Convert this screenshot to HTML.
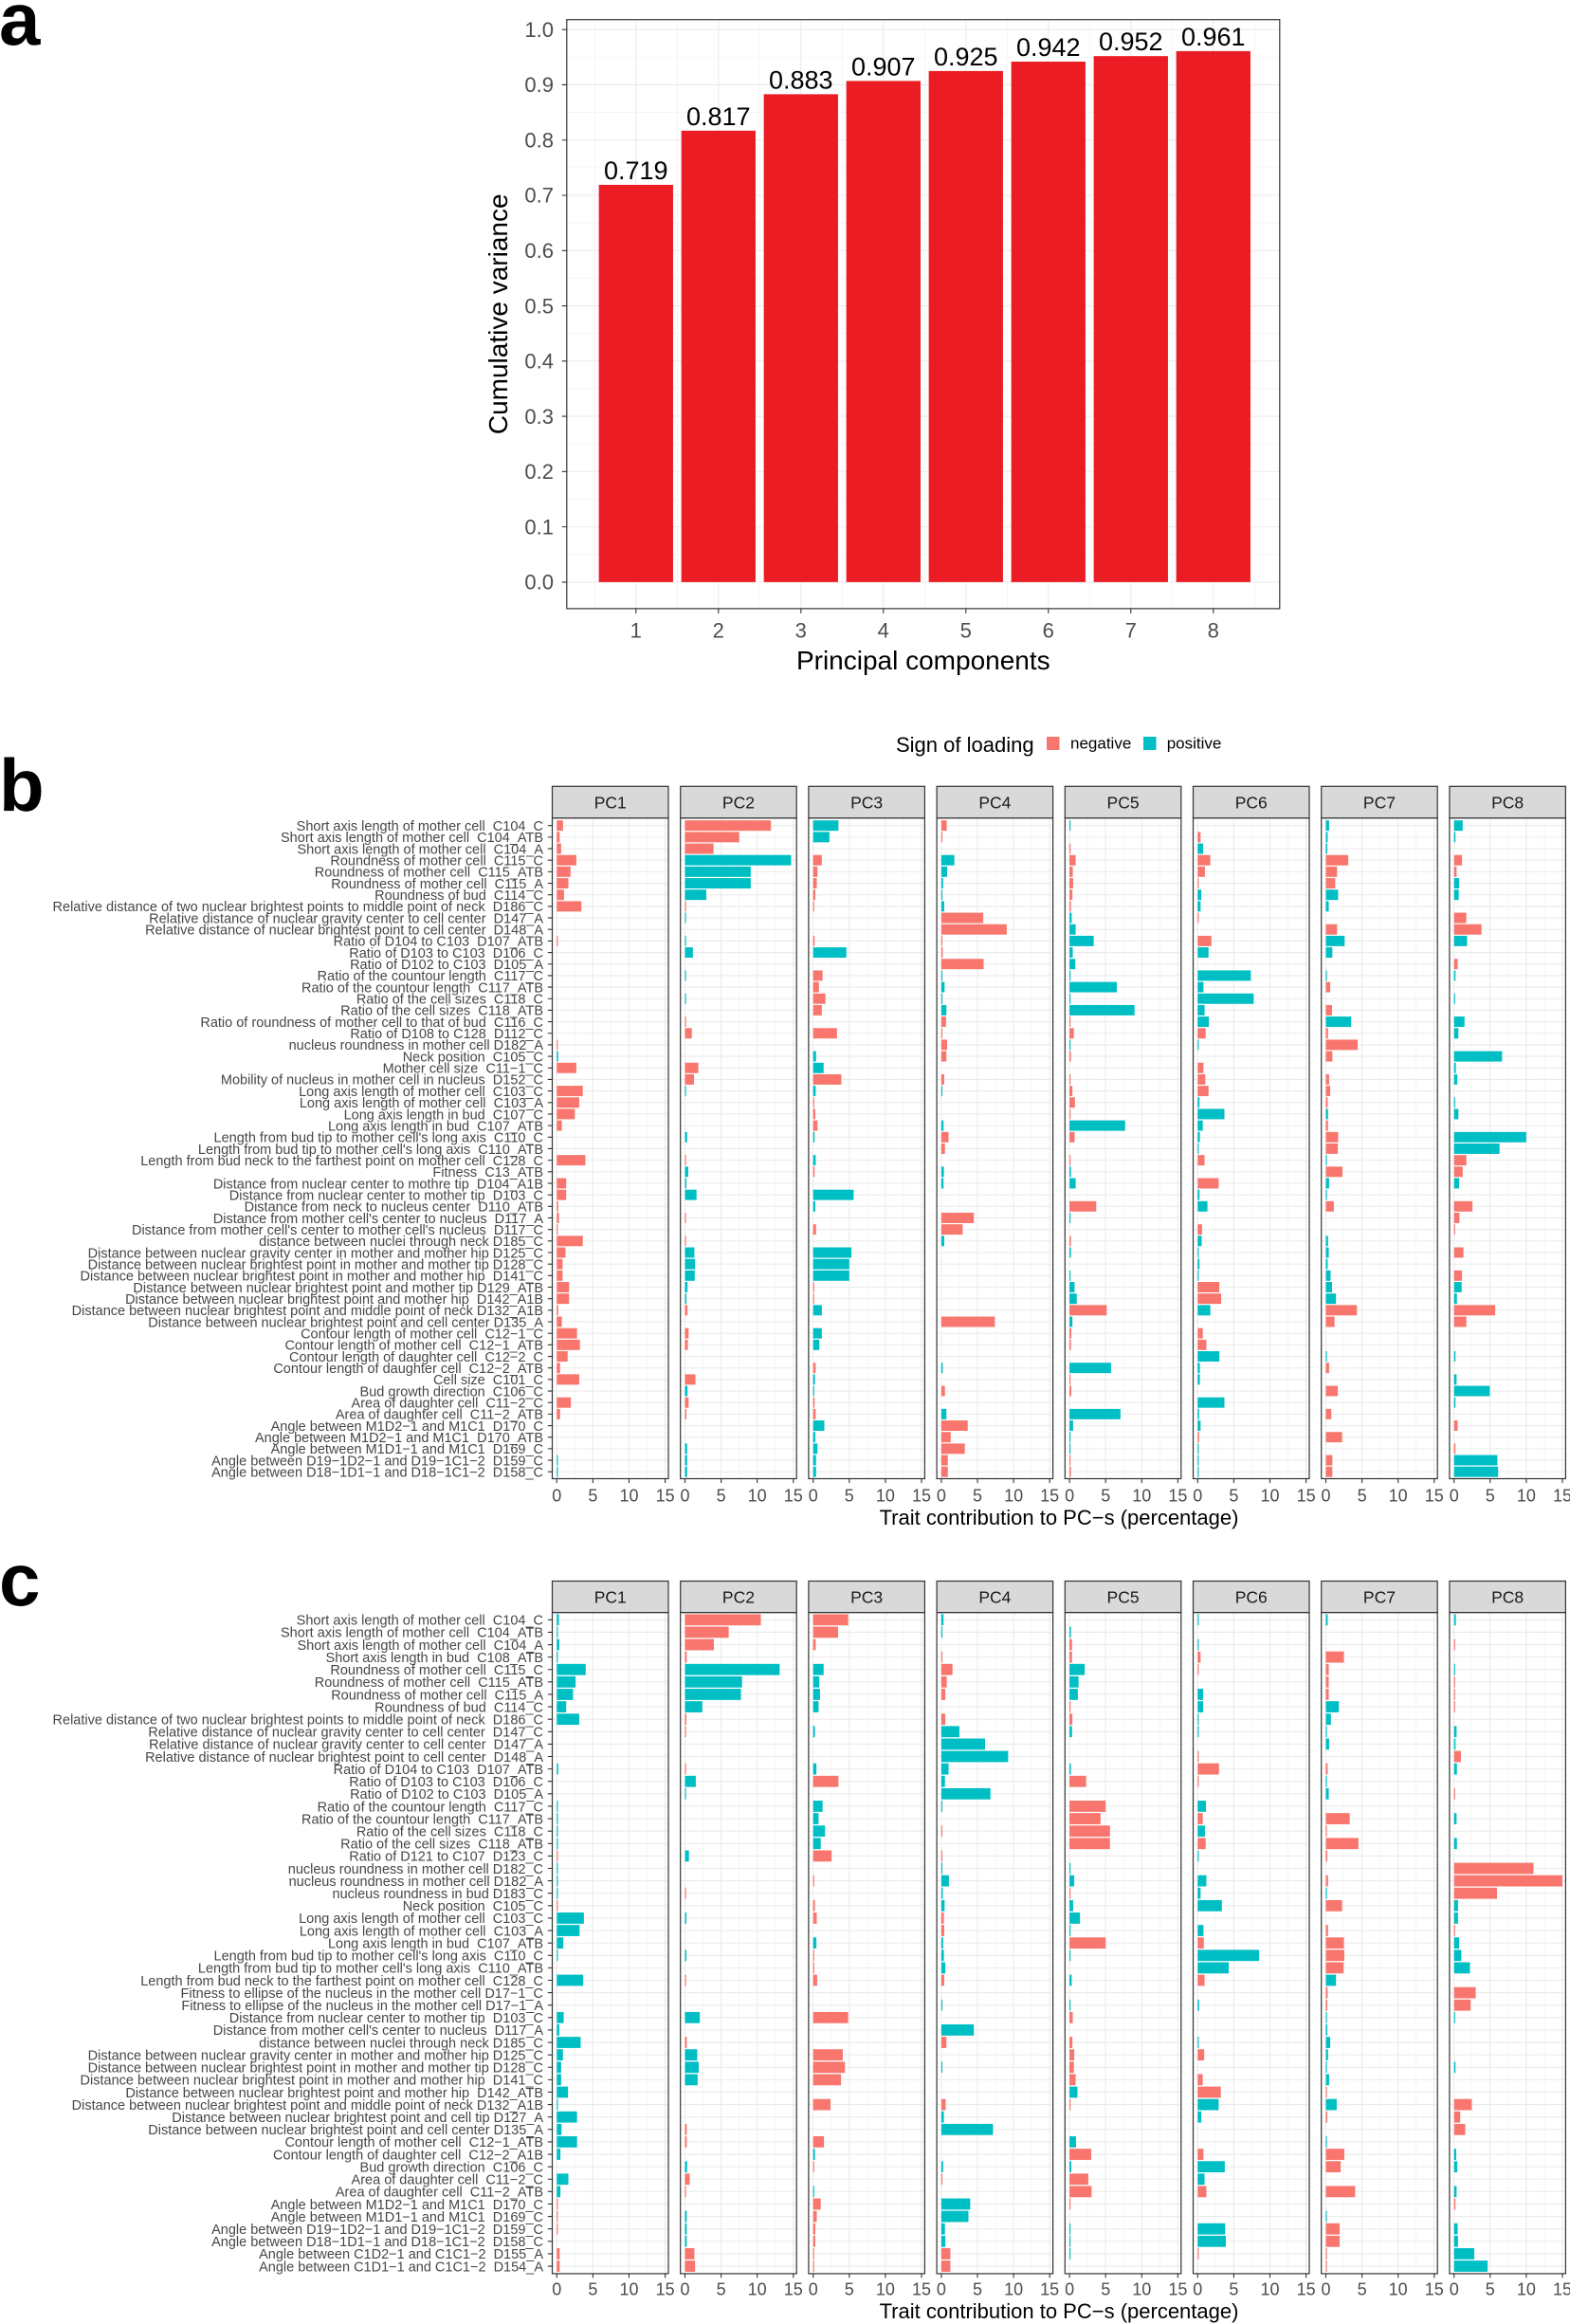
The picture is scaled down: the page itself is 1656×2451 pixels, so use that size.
<!DOCTYPE html>
<html><head><meta charset="utf-8"><style>
html,body{margin:0;padding:0;background:#fff;}
svg{display:block;font-family:"Liberation Sans",Arial,sans-serif;}
.n{fill:#F8766D}.p{fill:#00BFC4}
.yl{font-size:14.5px;fill:#474747}
.tk{font-size:18px;fill:#4D4D4D;text-anchor:middle}
.st{font-size:17.5px;fill:#1A1A1A;text-anchor:middle}
.gm{stroke:#EBEBEB;stroke-width:1.1;fill:none}
.gn{stroke:#F0F0F0;stroke-width:0.6;fill:none}
.bd{fill:none;stroke:#333;stroke-width:1.2}
.sp{fill:#D9D9D9;stroke:#333;stroke-width:1.2}
</style></head><body>
<svg width="1656" height="2451" viewBox="0 0 1656 2451" xmlns="http://www.w3.org/2000/svg" xmlns:xlink="http://www.w3.org/1999/xlink">
<rect width="1656" height="2451" fill="#fff"/>
<defs>
<g id="gb">
<rect x="0" y="862.7" width="122.5" height="696.8" fill="#fff"/>
<path class="gn" d="M23.85 862.7V1559.5M61.95 862.7V1559.5M100.05 862.7V1559.5"/>
<path class="gm" d="M4.8 862.7V1559.5M42.9 862.7V1559.5M81 862.7V1559.5M119.1 862.7V1559.5"/>
<path class="gm" vector-effect="non-scaling-stroke" transform="translate(0 870.7) scale(1 12.17)" d="M0 0h122.5M0 1h122.5M0 2h122.5M0 3h122.5M0 4h122.5M0 5h122.5M0 6h122.5M0 7h122.5M0 8h122.5M0 9h122.5M0 10h122.5M0 11h122.5M0 12h122.5M0 13h122.5M0 14h122.5M0 15h122.5M0 16h122.5M0 17h122.5M0 18h122.5M0 19h122.5M0 20h122.5M0 21h122.5M0 22h122.5M0 23h122.5M0 24h122.5M0 25h122.5M0 26h122.5M0 27h122.5M0 28h122.5M0 29h122.5M0 30h122.5M0 31h122.5M0 32h122.5M0 33h122.5M0 34h122.5M0 35h122.5M0 36h122.5M0 37h122.5M0 38h122.5M0 39h122.5M0 40h122.5M0 41h122.5M0 42h122.5M0 43h122.5M0 44h122.5M0 45h122.5M0 46h122.5M0 47h122.5M0 48h122.5M0 49h122.5M0 50h122.5M0 51h122.5M0 52h122.5M0 53h122.5M0 54h122.5M0 55h122.5M0 56h122.5"/>
</g>
<g id="gc">
<rect x="0" y="1700.6" width="122.5" height="697.3" fill="#fff"/>
<path class="gn" d="M23.85 1700.6V2397.9M61.95 1700.6V2397.9M100.05 1700.6V2397.9"/>
<path class="gm" d="M4.8 1700.6V2397.9M42.9 1700.6V2397.9M81 1700.6V2397.9M119.1 1700.6V2397.9"/>
<path class="gm" vector-effect="non-scaling-stroke" transform="translate(0 1708.3) scale(1 13.11)" d="M0 0h122.5M0 1h122.5M0 2h122.5M0 3h122.5M0 4h122.5M0 5h122.5M0 6h122.5M0 7h122.5M0 8h122.5M0 9h122.5M0 10h122.5M0 11h122.5M0 12h122.5M0 13h122.5M0 14h122.5M0 15h122.5M0 16h122.5M0 17h122.5M0 18h122.5M0 19h122.5M0 20h122.5M0 21h122.5M0 22h122.5M0 23h122.5M0 24h122.5M0 25h122.5M0 26h122.5M0 27h122.5M0 28h122.5M0 29h122.5M0 30h122.5M0 31h122.5M0 32h122.5M0 33h122.5M0 34h122.5M0 35h122.5M0 36h122.5M0 37h122.5M0 38h122.5M0 39h122.5M0 40h122.5M0 41h122.5M0 42h122.5M0 43h122.5M0 44h122.5M0 45h122.5M0 46h122.5M0 47h122.5M0 48h122.5M0 49h122.5M0 50h122.5M0 51h122.5M0 52h122.5"/>
</g>
<g id="xb"><path d="M4.8 1559.5v4.5M42.9 1559.5v4.5M81 1559.5v4.5M119.1 1559.5v4.5" stroke="#333" stroke-width="1.1"/></g>
<g id="xc"><path d="M4.8 2397.9v4.5M42.9 2397.9v4.5M81 2397.9v4.5M119.1 2397.9v4.5" stroke="#333" stroke-width="1.1"/></g>
</defs>

<!-- ===== Panel a ===== -->
<text x="-1" y="47" font-size="78" font-weight="bold" fill="#000">a</text>
<rect x="597.8" y="20.7" width="752" height="621.2" fill="#fff"/>
<path class="gn" d="M597.8 584.77H1349.8M597.8 526.5H1349.8M597.8 468.23H1349.8M597.8 409.96H1349.8M597.8 351.69H1349.8M597.8 293.42H1349.8M597.8 235.15H1349.8M597.8 176.88H1349.8M597.8 118.61H1349.8M597.8 60.34H1349.8M627.3 20.7V641.9M714.3 20.7V641.9M801.3 20.7V641.9M888.3 20.7V641.9M975.3 20.7V641.9M1062.3 20.7V641.9M1149.3 20.7V641.9M1236.3 20.7V641.9M1323.3 20.7V641.9"/>
<path class="gm" d="M597.8 613.9H1349.8M597.8 555.63H1349.8M597.8 497.36H1349.8M597.8 439.09H1349.8M597.8 380.82H1349.8M597.8 322.55H1349.8M597.8 264.28H1349.8M597.8 206.01H1349.8M597.8 147.74H1349.8M597.8 89.47H1349.8M597.8 31.2H1349.8M670.8 20.7V641.9M757.8 20.7V641.9M844.8 20.7V641.9M931.8 20.7V641.9M1018.8 20.7V641.9M1105.8 20.7V641.9M1192.8 20.7V641.9M1279.8 20.7V641.9"/>
<g fill="#EC1C24">
<rect x="631.65" y="194.94" width="78.3" height="418.96"/>
<rect x="718.65" y="137.83" width="78.3" height="476.07"/>
<rect x="805.65" y="99.38" width="78.3" height="514.52"/>
<rect x="892.65" y="85.39" width="78.3" height="528.51"/>
<rect x="979.65" y="74.9" width="78.3" height="539"/>
<rect x="1066.65" y="65" width="78.3" height="548.9"/>
<rect x="1153.65" y="59.17" width="78.3" height="554.73"/>
<rect x="1240.65" y="53.93" width="78.3" height="559.97"/>
</g>
<g font-size="27" fill="#000" text-anchor="middle">
<text x="670.8" y="188.9">0.719</text>
<text x="757.8" y="131.8">0.817</text>
<text x="844.8" y="93.4">0.883</text>
<text x="931.8" y="79.4">0.907</text>
<text x="1018.8" y="68.9">0.925</text>
<text x="1105.8" y="59">0.942</text>
<text x="1192.8" y="53.2">0.952</text>
<text x="1279.8" y="47.9">0.961</text>
</g>
<rect class="bd" x="597.8" y="20.7" width="752" height="621.2"/>
<path d="M592.8 613.9h5M592.8 555.63h5M592.8 497.36h5M592.8 439.09h5M592.8 380.82h5M592.8 322.55h5M592.8 264.28h5M592.8 206.01h5M592.8 147.74h5M592.8 89.47h5M592.8 31.2h5M670.8 641.9v5M757.8 641.9v5M844.8 641.9v5M931.8 641.9v5M1018.8 641.9v5M1105.8 641.9v5M1192.8 641.9v5M1279.8 641.9v5" stroke="#333" stroke-width="1.1"/>
<g font-size="22" fill="#4D4D4D" text-anchor="end">
<text x="584" y="621.6">0.0</text>
<text x="584" y="563.3">0.1</text>
<text x="584" y="505.1">0.2</text>
<text x="584" y="446.8">0.3</text>
<text x="584" y="388.5">0.4</text>
<text x="584" y="330.3">0.5</text>
<text x="584" y="272">0.6</text>
<text x="584" y="213.7">0.7</text>
<text x="584" y="155.4">0.8</text>
<text x="584" y="97.2">0.9</text>
<text x="584" y="38.9">1.0</text>
</g>
<g font-size="22" fill="#4D4D4D" text-anchor="middle">
<text x="670.8" y="672.4">1</text>
<text x="757.8" y="672.4">2</text>
<text x="844.8" y="672.4">3</text>
<text x="931.8" y="672.4">4</text>
<text x="1018.8" y="672.4">5</text>
<text x="1105.8" y="672.4">6</text>
<text x="1192.8" y="672.4">7</text>
<text x="1279.8" y="672.4">8</text>
</g>
<text x="973.8" y="706" font-size="28" fill="#000" text-anchor="middle">Principal components</text>
<text transform="translate(535 331.3) rotate(-90)" font-size="28" fill="#000" text-anchor="middle">Cumulative variance</text>

<!-- ===== Legend ===== -->
<text x="945" y="793" font-size="22" fill="#000">Sign of loading</text>
<rect x="1104" y="777" width="13.5" height="14" fill="#F8766D"/>
<text x="1129" y="789.5" font-size="17" fill="#000">negative</text>
<rect x="1206" y="777" width="13.5" height="14" fill="#00BFC4"/>
<text x="1230.7" y="789.5" font-size="17" fill="#000">positive</text>

<!-- ===== Panel b ===== -->
<text x="-1" y="855" font-size="78" font-weight="bold" fill="#000">b</text>
<use xlink:href="#gb" href="#gb" x="582.5"/>
<use xlink:href="#gb" href="#gb" x="717.7"/>
<use xlink:href="#gb" href="#gb" x="852.9"/>
<use xlink:href="#gb" href="#gb" x="988.1"/>
<use xlink:href="#gb" href="#gb" x="1123.3"/>
<use xlink:href="#gb" href="#gb" x="1258.5"/>
<use xlink:href="#gb" href="#gb" x="1393.7"/>
<use xlink:href="#gb" href="#gb" x="1528.9"/>

<g transform="translate(587.3 865.22) scale(7.62 12.17)">
<rect class="n" y="0" width=".86" height=".9"/><rect class="n" y="1" width=".4" height=".9"/><rect class="n" y="2" width=".6" height=".9"/><rect class="n" y="3" width="2.7" height=".9"/><rect class="n" y="4" width="1.9" height=".9"/><rect class="n" y="5" width="1.6" height=".9"/><rect class="n" y="6" width="1" height=".9"/><rect class="n" y="7" width="3.4" height=".9"/><rect class="n" y="10" width=".15" height=".9"/><rect class="n" y="19" width=".15" height=".9"/><rect class="p" y="20" width=".2" height=".9"/><rect class="n" y="21" width="2.7" height=".9"/><rect class="n" y="23" width="3.6" height=".9"/><rect class="n" y="24" width="3.1" height=".9"/><rect class="n" y="25" width="2.5" height=".9"/><rect class="n" y="26" width=".7" height=".9"/><rect class="n" y="29" width="3.95" height=".9"/><rect class="n" y="31" width="1.3" height=".9"/><rect class="n" y="32" width="1.3" height=".9"/><rect class="n" y="33" width=".2" height=".9"/><rect class="n" y="34" width=".3" height=".9"/><rect class="n" y="35" width=".15" height=".9"/><rect class="n" y="36" width="3.6" height=".9"/><rect class="n" y="37" width="1.2" height=".9"/><rect class="n" y="38" width=".8" height=".9"/><rect class="n" y="39" width=".8" height=".9"/><rect class="n" y="40" width="1.7" height=".9"/><rect class="n" y="41" width="1.7" height=".9"/><rect class="n" y="42" width=".2" height=".9"/><rect class="n" y="43" width=".7" height=".9"/><rect class="n" y="44" width="2.8" height=".9"/><rect class="n" y="45" width="3.2" height=".9"/><rect class="n" y="46" width="1.5" height=".9"/><rect class="n" y="47" width=".45" height=".9"/><rect class="n" y="48" width="3.1" height=".9"/><rect class="n" y="50" width="1.95" height=".9"/><rect class="n" y="51" width=".45" height=".9"/><rect class="p" y="55" width=".15" height=".9"/><rect class="p" y="56" width=".15" height=".9"/>
</g>
<g transform="translate(722.5 865.22) scale(7.62 12.17)">
<rect class="n" y="0" width="11.9" height=".9"/><rect class="n" y="1" width="7.5" height=".9"/><rect class="n" y="2" width="3.95" height=".9"/><rect class="p" y="3" width="14.7" height=".9"/><rect class="p" y="4" width="9.1" height=".9"/><rect class="p" y="5" width="9.1" height=".9"/><rect class="p" y="6" width="2.95" height=".9"/><rect class="n" y="7" width=".15" height=".9"/><rect class="p" y="8" width=".15" height=".9"/><rect class="p" y="10" width=".15" height=".9"/><rect class="p" y="11" width="1.1" height=".9"/><rect class="p" y="13" width=".15" height=".9"/><rect class="p" y="15" width=".15" height=".9"/><rect class="n" y="17" width=".15" height=".9"/><rect class="n" y="18" width=".95" height=".9"/><rect class="n" y="21" width="1.85" height=".9"/><rect class="n" y="22" width="1.25" height=".9"/><rect class="p" y="23" width=".15" height=".9"/><rect class="p" y="27" width=".3" height=".9"/><rect class="n" y="29" width=".15" height=".9"/><rect class="p" y="30" width=".45" height=".9"/><rect class="p" y="31" width=".2" height=".9"/><rect class="p" y="32" width="1.6" height=".9"/><rect class="n" y="34" width=".15" height=".9"/><rect class="n" y="36" width=".15" height=".9"/><rect class="p" y="37" width="1.3" height=".9"/><rect class="p" y="38" width="1.4" height=".9"/><rect class="p" y="39" width="1.35" height=".9"/><rect class="p" y="40" width=".35" height=".9"/><rect class="p" y="41" width=".2" height=".9"/><rect class="n" y="42" width=".35" height=".9"/><rect class="n" y="44" width=".5" height=".9"/><rect class="n" y="45" width=".4" height=".9"/><rect class="n" y="48" width="1.45" height=".9"/><rect class="p" y="49" width=".35" height=".9"/><rect class="n" y="50" width=".5" height=".9"/><rect class="n" y="51" width=".2" height=".9"/><rect class="p" y="54" width=".3" height=".9"/><rect class="p" y="55" width=".3" height=".9"/><rect class="p" y="56" width=".3" height=".9"/>
</g>
<g transform="translate(857.7 865.22) scale(7.62 12.17)">
<rect class="p" y="0" width="3.5" height=".9"/><rect class="p" y="1" width="2.25" height=".9"/><rect class="n" y="3" width="1.2" height=".9"/><rect class="n" y="4" width=".6" height=".9"/><rect class="n" y="5" width=".5" height=".9"/><rect class="n" y="6" width=".3" height=".9"/><rect class="n" y="7" width=".15" height=".9"/><rect class="n" y="10" width=".2" height=".9"/><rect class="p" y="11" width="4.6" height=".9"/><rect class="n" y="13" width="1.3" height=".9"/><rect class="n" y="14" width=".8" height=".9"/><rect class="n" y="15" width="1.7" height=".9"/><rect class="n" y="16" width="1.2" height=".9"/><rect class="n" y="18" width="3.3" height=".9"/><rect class="p" y="20" width=".4" height=".9"/><rect class="p" y="21" width="1.45" height=".9"/><rect class="n" y="22" width="3.9" height=".9"/><rect class="p" y="23" width=".35" height=".9"/><rect class="n" y="24" width=".15" height=".9"/><rect class="n" y="25" width=".3" height=".9"/><rect class="n" y="26" width=".6" height=".9"/><rect class="p" y="27" width=".2" height=".9"/><rect class="p" y="29" width=".35" height=".9"/><rect class="n" y="30" width=".2" height=".9"/><rect class="p" y="32" width="5.6" height=".9"/><rect class="p" y="33" width=".3" height=".9"/><rect class="n" y="35" width=".4" height=".9"/><rect class="p" y="37" width="5.3" height=".9"/><rect class="p" y="38" width="5" height=".9"/><rect class="p" y="39" width="5" height=".9"/><rect class="n" y="40" width=".15" height=".9"/><rect class="n" y="41" width=".15" height=".9"/><rect class="p" y="42" width="1.2" height=".9"/><rect class="p" y="44" width="1.2" height=".9"/><rect class="p" y="45" width=".85" height=".9"/><rect class="n" y="47" width=".35" height=".9"/><rect class="p" y="48" width=".25" height=".9"/><rect class="p" y="49" width=".15" height=".9"/><rect class="n" y="50" width=".2" height=".9"/><rect class="n" y="51" width=".35" height=".9"/><rect class="p" y="52" width="1.55" height=".9"/><rect class="p" y="53" width=".3" height=".9"/><rect class="p" y="54" width=".6" height=".9"/><rect class="p" y="55" width=".4" height=".9"/><rect class="p" y="56" width=".4" height=".9"/>
</g>
<g transform="translate(992.9 865.22) scale(7.62 12.17)">
<rect class="n" y="0" width=".75" height=".9"/><rect class="n" y="1" width=".15" height=".9"/><rect class="p" y="3" width="1.8" height=".9"/><rect class="p" y="4" width=".8" height=".9"/><rect class="p" y="5" width=".25" height=".9"/><rect class="p" y="6" width=".15" height=".9"/><rect class="p" y="7" width=".4" height=".9"/><rect class="n" y="8" width="5.8" height=".9"/><rect class="n" y="9" width="9.05" height=".9"/><rect class="n" y="10" width=".15" height=".9"/><rect class="n" y="11" width=".2" height=".9"/><rect class="n" y="12" width="5.85" height=".9"/><rect class="p" y="13" width=".15" height=".9"/><rect class="p" y="14" width=".45" height=".9"/><rect class="p" y="15" width=".15" height=".9"/><rect class="p" y="16" width=".7" height=".9"/><rect class="n" y="17" width=".65" height=".9"/><rect class="n" y="18" width=".15" height=".9"/><rect class="n" y="19" width=".8" height=".9"/><rect class="n" y="20" width=".7" height=".9"/><rect class="n" y="22" width=".4" height=".9"/><rect class="p" y="23" width=".15" height=".9"/><rect class="p" y="26" width=".3" height=".9"/><rect class="n" y="27" width="1" height=".9"/><rect class="n" y="28" width=".5" height=".9"/><rect class="p" y="30" width=".35" height=".9"/><rect class="p" y="31" width=".3" height=".9"/><rect class="n" y="34" width="4.5" height=".9"/><rect class="n" y="35" width="2.95" height=".9"/><rect class="p" y="36" width=".4" height=".9"/><rect class="n" y="43" width="7.4" height=".9"/><rect class="p" y="47" width=".2" height=".9"/><rect class="n" y="49" width=".5" height=".9"/><rect class="p" y="51" width=".7" height=".9"/><rect class="n" y="52" width="3.65" height=".9"/><rect class="n" y="53" width="1.3" height=".9"/><rect class="n" y="54" width="3.25" height=".9"/><rect class="n" y="55" width=".9" height=".9"/><rect class="n" y="56" width=".9" height=".9"/>
</g>
<g transform="translate(1128.1 865.22) scale(7.62 12.17)">
<rect class="p" y="0" width=".15" height=".9"/><rect class="n" y="2" width=".15" height=".9"/><rect class="n" y="3" width=".85" height=".9"/><rect class="n" y="4" width=".45" height=".9"/><rect class="n" y="5" width=".5" height=".9"/><rect class="n" y="6" width=".4" height=".9"/><rect class="n" y="7" width=".2" height=".9"/><rect class="p" y="8" width=".3" height=".9"/><rect class="p" y="9" width=".85" height=".9"/><rect class="p" y="10" width="3.35" height=".9"/><rect class="p" y="11" width=".45" height=".9"/><rect class="p" y="12" width=".8" height=".9"/><rect class="p" y="13" width=".15" height=".9"/><rect class="p" y="14" width="6.55" height=".9"/><rect class="p" y="15" width=".15" height=".9"/><rect class="p" y="16" width="9" height=".9"/><rect class="n" y="17" width=".15" height=".9"/><rect class="n" y="18" width=".6" height=".9"/><rect class="p" y="19" width=".15" height=".9"/><rect class="n" y="20" width=".2" height=".9"/><rect class="n" y="22" width=".15" height=".9"/><rect class="n" y="23" width=".4" height=".9"/><rect class="n" y="24" width=".75" height=".9"/><rect class="n" y="25" width=".15" height=".9"/><rect class="p" y="26" width="7.7" height=".9"/><rect class="n" y="27" width=".7" height=".9"/><rect class="n" y="29" width=".15" height=".9"/><rect class="p" y="30" width=".2" height=".9"/><rect class="p" y="31" width=".85" height=".9"/><rect class="n" y="33" width="3.7" height=".9"/><rect class="p" y="34" width=".15" height=".9"/><rect class="n" y="36" width=".2" height=".9"/><rect class="p" y="37" width=".2" height=".9"/><rect class="p" y="39" width=".15" height=".9"/><rect class="p" y="40" width=".7" height=".9"/><rect class="p" y="41" width="1" height=".9"/><rect class="n" y="42" width="5.15" height=".9"/><rect class="p" y="43" width=".4" height=".9"/><rect class="n" y="44" width=".25" height=".9"/><rect class="n" y="45" width=".2" height=".9"/><rect class="p" y="47" width="5.75" height=".9"/><rect class="n" y="48" width=".15" height=".9"/><rect class="n" y="49" width=".25" height=".9"/><rect class="p" y="51" width="7.05" height=".9"/><rect class="p" y="52" width=".5" height=".9"/><rect class="p" y="53" width=".15" height=".9"/><rect class="p" y="54" width=".15" height=".9"/><rect class="n" y="55" width=".15" height=".9"/><rect class="n" y="56" width=".2" height=".9"/>
</g>
<g transform="translate(1263.3 865.22) scale(7.62 12.17)">
<rect class="n" y="1" width=".4" height=".9"/><rect class="p" y="2" width=".75" height=".9"/><rect class="n" y="3" width="1.75" height=".9"/><rect class="n" y="4" width="1" height=".9"/><rect class="n" y="5" width=".15" height=".9"/><rect class="p" y="6" width=".5" height=".9"/><rect class="p" y="7" width=".4" height=".9"/><rect class="n" y="8" width=".15" height=".9"/><rect class="n" y="10" width="1.9" height=".9"/><rect class="p" y="11" width="1.5" height=".9"/><rect class="p" y="13" width="7.35" height=".9"/><rect class="p" y="14" width=".8" height=".9"/><rect class="p" y="15" width="7.75" height=".9"/><rect class="p" y="16" width=".95" height=".9"/><rect class="p" y="17" width="1.55" height=".9"/><rect class="n" y="18" width="1.1" height=".9"/><rect class="p" y="19" width=".15" height=".9"/><rect class="n" y="21" width=".8" height=".9"/><rect class="n" y="22" width="1.05" height=".9"/><rect class="n" y="23" width="1.5" height=".9"/><rect class="p" y="24" width=".25" height=".9"/><rect class="p" y="25" width="3.7" height=".9"/><rect class="p" y="26" width=".7" height=".9"/><rect class="p" y="27" width=".3" height=".9"/><rect class="p" y="28" width=".15" height=".9"/><rect class="n" y="29" width=".95" height=".9"/><rect class="n" y="31" width="2.9" height=".9"/><rect class="p" y="32" width=".25" height=".9"/><rect class="p" y="33" width="1.35" height=".9"/><rect class="n" y="35" width=".6" height=".9"/><rect class="p" y="36" width=".55" height=".9"/><rect class="p" y="37" width=".15" height=".9"/><rect class="p" y="38" width=".25" height=".9"/><rect class="p" y="39" width=".15" height=".9"/><rect class="n" y="40" width="3" height=".9"/><rect class="n" y="41" width="3.25" height=".9"/><rect class="p" y="42" width="1.75" height=".9"/><rect class="n" y="44" width=".7" height=".9"/><rect class="n" y="45" width="1.2" height=".9"/><rect class="p" y="46" width="3" height=".9"/><rect class="p" y="47" width=".3" height=".9"/><rect class="p" y="48" width=".3" height=".9"/><rect class="p" y="50" width="3.7" height=".9"/><rect class="p" y="51" width=".2" height=".9"/><rect class="p" y="52" width=".4" height=".9"/><rect class="n" y="53" width=".2" height=".9"/><rect class="p" y="54" width=".15" height=".9"/><rect class="p" y="55" width=".15" height=".9"/><rect class="p" y="56" width=".15" height=".9"/>
</g>
<g transform="translate(1398.5 865.22) scale(7.62 12.17)">
<rect class="p" y="0" width=".45" height=".9"/><rect class="p" y="1" width=".25" height=".9"/><rect class="p" y="2" width=".2" height=".9"/><rect class="n" y="3" width="3.1" height=".9"/><rect class="n" y="4" width="1.55" height=".9"/><rect class="n" y="5" width="1.3" height=".9"/><rect class="p" y="6" width="1.7" height=".9"/><rect class="p" y="7" width=".4" height=".9"/><rect class="n" y="9" width="1.55" height=".9"/><rect class="p" y="10" width="2.6" height=".9"/><rect class="p" y="11" width=".9" height=".9"/><rect class="p" y="13" width=".15" height=".9"/><rect class="n" y="14" width=".6" height=".9"/><rect class="n" y="16" width=".85" height=".9"/><rect class="p" y="17" width="3.5" height=".9"/><rect class="n" y="18" width=".3" height=".9"/><rect class="n" y="19" width="4.4" height=".9"/><rect class="n" y="20" width=".9" height=".9"/><rect class="n" y="22" width=".45" height=".9"/><rect class="n" y="23" width=".6" height=".9"/><rect class="n" y="24" width=".25" height=".9"/><rect class="p" y="25" width=".3" height=".9"/><rect class="n" y="26" width=".3" height=".9"/><rect class="n" y="27" width="1.7" height=".9"/><rect class="n" y="28" width="1.65" height=".9"/><rect class="p" y="29" width=".15" height=".9"/><rect class="n" y="30" width="2.3" height=".9"/><rect class="p" y="31" width=".45" height=".9"/><rect class="p" y="32" width=".15" height=".9"/><rect class="n" y="33" width="1.1" height=".9"/><rect class="p" y="36" width=".3" height=".9"/><rect class="p" y="37" width=".4" height=".9"/><rect class="p" y="38" width=".25" height=".9"/><rect class="p" y="39" width=".65" height=".9"/><rect class="p" y="40" width=".85" height=".9"/><rect class="p" y="41" width="1.4" height=".9"/><rect class="n" y="42" width="4.3" height=".9"/><rect class="n" y="43" width="1.2" height=".9"/><rect class="p" y="46" width=".15" height=".9"/><rect class="n" y="47" width=".45" height=".9"/><rect class="n" y="49" width="1.65" height=".9"/><rect class="n" y="51" width=".75" height=".9"/><rect class="n" y="53" width="2.25" height=".9"/><rect class="n" y="55" width=".9" height=".9"/><rect class="n" y="56" width=".9" height=".9"/>
</g>
<g transform="translate(1533.7 865.22) scale(7.62 12.17)">
<rect class="p" y="0" width="1.2" height=".9"/><rect class="p" y="1" width=".2" height=".9"/><rect class="n" y="3" width="1.1" height=".9"/><rect class="n" y="4" width=".35" height=".9"/><rect class="p" y="5" width=".7" height=".9"/><rect class="p" y="6" width=".65" height=".9"/><rect class="n" y="8" width="1.7" height=".9"/><rect class="n" y="9" width="3.8" height=".9"/><rect class="p" y="10" width="1.8" height=".9"/><rect class="n" y="12" width=".5" height=".9"/><rect class="p" y="13" width=".2" height=".9"/><rect class="p" y="15" width=".15" height=".9"/><rect class="p" y="17" width="1.45" height=".9"/><rect class="p" y="18" width=".6" height=".9"/><rect class="p" y="20" width="6.65" height=".9"/><rect class="p" y="21" width=".25" height=".9"/><rect class="p" y="22" width=".45" height=".9"/><rect class="p" y="24" width=".15" height=".9"/><rect class="p" y="25" width=".6" height=".9"/><rect class="p" y="27" width="10" height=".9"/><rect class="p" y="28" width="6.3" height=".9"/><rect class="n" y="29" width="1.7" height=".9"/><rect class="n" y="30" width="1.2" height=".9"/><rect class="p" y="31" width=".7" height=".9"/><rect class="n" y="33" width="2.55" height=".9"/><rect class="n" y="34" width=".75" height=".9"/><rect class="n" y="35" width=".15" height=".9"/><rect class="n" y="37" width="1.3" height=".9"/><rect class="n" y="39" width="1.1" height=".9"/><rect class="p" y="40" width="1.05" height=".9"/><rect class="p" y="41" width=".4" height=".9"/><rect class="n" y="42" width="5.7" height=".9"/><rect class="n" y="43" width="1.7" height=".9"/><rect class="p" y="46" width=".2" height=".9"/><rect class="p" y="48" width=".35" height=".9"/><rect class="p" y="49" width="4.95" height=".9"/><rect class="p" y="50" width=".2" height=".9"/><rect class="n" y="52" width=".5" height=".9"/><rect class="n" y="54" width=".2" height=".9"/><rect class="p" y="55" width="6" height=".9"/><rect class="p" y="56" width="6.1" height=".9"/>
</g>

<g>
<rect class="bd" x="582.5" y="862.7" width="122.5" height="696.8"/><rect class="bd" x="717.7" y="862.7" width="122.5" height="696.8"/><rect class="bd" x="852.9" y="862.7" width="122.5" height="696.8"/><rect class="bd" x="988.1" y="862.7" width="122.5" height="696.8"/><rect class="bd" x="1123.3" y="862.7" width="122.5" height="696.8"/><rect class="bd" x="1258.5" y="862.7" width="122.5" height="696.8"/><rect class="bd" x="1393.7" y="862.7" width="122.5" height="696.8"/><rect class="bd" x="1528.9" y="862.7" width="122.5" height="696.8"/>
<rect class="sp" x="582.5" y="829.3" width="122.5" height="33.4"/><rect class="sp" x="717.7" y="829.3" width="122.5" height="33.4"/><rect class="sp" x="852.9" y="829.3" width="122.5" height="33.4"/><rect class="sp" x="988.1" y="829.3" width="122.5" height="33.4"/><rect class="sp" x="1123.3" y="829.3" width="122.5" height="33.4"/><rect class="sp" x="1258.5" y="829.3" width="122.5" height="33.4"/><rect class="sp" x="1393.7" y="829.3" width="122.5" height="33.4"/><rect class="sp" x="1528.9" y="829.3" width="122.5" height="33.4"/>
</g>
<text class="st" x="643.75" y="852.5">PC1</text><text class="st" x="778.95" y="852.5">PC2</text><text class="st" x="914.15" y="852.5">PC3</text><text class="st" x="1049.35" y="852.5">PC4</text><text class="st" x="1184.55" y="852.5">PC5</text><text class="st" x="1319.75" y="852.5">PC6</text><text class="st" x="1454.95" y="852.5">PC7</text><text class="st" x="1590.15" y="852.5">PC8</text>

<use xlink:href="#xb" href="#xb" x="582.5"/><use xlink:href="#xb" href="#xb" x="717.7"/><use xlink:href="#xb" href="#xb" x="852.9"/><use xlink:href="#xb" href="#xb" x="988.1"/><use xlink:href="#xb" href="#xb" x="1123.3"/><use xlink:href="#xb" href="#xb" x="1258.5"/><use xlink:href="#xb" href="#xb" x="1393.7"/><use xlink:href="#xb" href="#xb" x="1528.9"/>
<g>
<text class="tk" x="587.3" y="1583.5">0</text><text class="tk" x="625.4" y="1583.5">5</text><text class="tk" x="663.5" y="1583.5">10</text><text class="tk" x="701.6" y="1583.5">15</text>
<text class="tk" x="722.5" y="1583.5">0</text><text class="tk" x="760.6" y="1583.5">5</text><text class="tk" x="798.7" y="1583.5">10</text><text class="tk" x="836.8" y="1583.5">15</text>
<text class="tk" x="857.7" y="1583.5">0</text><text class="tk" x="895.8" y="1583.5">5</text><text class="tk" x="933.9" y="1583.5">10</text><text class="tk" x="972" y="1583.5">15</text>
<text class="tk" x="992.9" y="1583.5">0</text><text class="tk" x="1031" y="1583.5">5</text><text class="tk" x="1069.1" y="1583.5">10</text><text class="tk" x="1107.2" y="1583.5">15</text>
<text class="tk" x="1128.1" y="1583.5">0</text><text class="tk" x="1166.2" y="1583.5">5</text><text class="tk" x="1204.3" y="1583.5">10</text><text class="tk" x="1242.4" y="1583.5">15</text>
<text class="tk" x="1263.3" y="1583.5">0</text><text class="tk" x="1301.4" y="1583.5">5</text><text class="tk" x="1339.5" y="1583.5">10</text><text class="tk" x="1377.6" y="1583.5">15</text>
<text class="tk" x="1398.5" y="1583.5">0</text><text class="tk" x="1436.6" y="1583.5">5</text><text class="tk" x="1474.7" y="1583.5">10</text><text class="tk" x="1512.8" y="1583.5">15</text>
<text class="tk" x="1533.7" y="1583.5">0</text><text class="tk" x="1571.8" y="1583.5">5</text><text class="tk" x="1609.9" y="1583.5">10</text><text class="tk" x="1648" y="1583.5">15</text>
</g>
<text x="1117" y="1608" font-size="22" fill="#000" text-anchor="middle">Trait contribution to PC−s (percentage)</text>

<path vector-effect="non-scaling-stroke" transform="translate(0 870.7) scale(1 12.17)" stroke="#333" stroke-width="1.1" d="M577.8 0H582.5M577.8 1H582.5M577.8 2H582.5M577.8 3H582.5M577.8 4H582.5M577.8 5H582.5M577.8 6H582.5M577.8 7H582.5M577.8 8H582.5M577.8 9H582.5M577.8 10H582.5M577.8 11H582.5M577.8 12H582.5M577.8 13H582.5M577.8 14H582.5M577.8 15H582.5M577.8 16H582.5M577.8 17H582.5M577.8 18H582.5M577.8 19H582.5M577.8 20H582.5M577.8 21H582.5M577.8 22H582.5M577.8 23H582.5M577.8 24H582.5M577.8 25H582.5M577.8 26H582.5M577.8 27H582.5M577.8 28H582.5M577.8 29H582.5M577.8 30H582.5M577.8 31H582.5M577.8 32H582.5M577.8 33H582.5M577.8 34H582.5M577.8 35H582.5M577.8 36H582.5M577.8 37H582.5M577.8 38H582.5M577.8 39H582.5M577.8 40H582.5M577.8 41H582.5M577.8 42H582.5M577.8 43H582.5M577.8 44H582.5M577.8 45H582.5M577.8 46H582.5M577.8 47H582.5M577.8 48H582.5M577.8 49H582.5M577.8 50H582.5M577.8 51H582.5M577.8 52H582.5M577.8 53H582.5M577.8 54H582.5M577.8 55H582.5M577.8 56H582.5"/>

<text class="yl" x="573" y="876" text-anchor="end"><tspan x="573">Short axis length of mother cell&#160; C104_C</tspan
><tspan x="573" dy="12.17">Short axis length of mother cell&#160; C104_ATB</tspan
><tspan x="573" dy="12.17">Short axis length of mother cell&#160; C104_A</tspan
><tspan x="573" dy="12.17">Roundness of mother cell&#160; C115_C</tspan
><tspan x="573" dy="12.17">Roundness of mother cell&#160; C115_ATB</tspan
><tspan x="573" dy="12.17">Roundness of mother cell&#160; C115_A</tspan
><tspan x="573" dy="12.17">Roundness of bud&#160; C114_C</tspan
><tspan x="573" dy="12.17">Relative distance of two nuclear brightest points to middle point of neck&#160; D186_C</tspan
><tspan x="573" dy="12.17">Relative distance of nuclear gravity center to cell center&#160; D147_A</tspan
><tspan x="573" dy="12.17">Relative distance of nuclear brightest point to cell center&#160; D148_A</tspan
><tspan x="573" dy="12.17">Ratio of D104 to C103&#160; D107_ATB</tspan
><tspan x="573" dy="12.17">Ratio of D103 to C103&#160; D106_C</tspan
><tspan x="573" dy="12.17">Ratio of D102 to C103&#160; D105_A</tspan
><tspan x="573" dy="12.17">Ratio of the countour length&#160; C117_C</tspan
><tspan x="573" dy="12.17">Ratio of the countour length&#160; C117_ATB</tspan
><tspan x="573" dy="12.17">Ratio of the cell sizes&#160; C118_C</tspan
><tspan x="573" dy="12.17">Ratio of the cell sizes&#160; C118_ATB</tspan
><tspan x="573" dy="12.17">Ratio of roundness of mother cell to that of bud&#160; C116_C</tspan
><tspan x="573" dy="12.17">Ratio of D108 to C128&#160; D112_C</tspan
><tspan x="573" dy="12.17">nucleus roundness in mother cell D182_A</tspan
><tspan x="573" dy="12.17">Neck position&#160; C105_C</tspan
><tspan x="573" dy="12.17">Mother cell size&#160; C11−1_C</tspan
><tspan x="573" dy="12.17">Mobility of nucleus in mother cell in nucleus&#160; D152_C</tspan
><tspan x="573" dy="12.17">Long axis length of mother cell&#160; C103_C</tspan
><tspan x="573" dy="12.17">Long axis length of mother cell&#160; C103_A</tspan
><tspan x="573" dy="12.17">Long axis length in bud&#160; C107_C</tspan
><tspan x="573" dy="12.17">Long axis length in bud&#160; C107_ATB</tspan
><tspan x="573" dy="12.17">Length from bud tip to mother cell's long axis&#160; C110_C</tspan
><tspan x="573" dy="12.17">Length from bud tip to mother cell's long axis&#160; C110_ATB</tspan
><tspan x="573" dy="12.17">Length from bud neck to the farthest point on mother cell&#160; C128_C</tspan
><tspan x="573" dy="12.17">Fitness&#160; C13_ATB</tspan
><tspan x="573" dy="12.17">Distance from nuclear center to mothre tip&#160; D104_A1B</tspan
><tspan x="573" dy="12.17">Distance from nuclear center to mother tip&#160; D103_C</tspan
><tspan x="573" dy="12.17">Distance from neck to nucleus center&#160; D110_ATB</tspan
><tspan x="573" dy="12.17">Distance from mother cell's center to nucleus&#160; D117_A</tspan
><tspan x="573" dy="12.17">Distance from mother cell's center to mother cell's nucleus&#160; D117_C</tspan
><tspan x="573" dy="12.17">distance between nuclei through neck D185_C</tspan
><tspan x="573" dy="12.17">Distance between nuclear gravity center in mother and mother hip D125_C</tspan
><tspan x="573" dy="12.17">Distance between nuclear brightest point in mother and mother tip D128_C</tspan
><tspan x="573" dy="12.17">Distance between nuclear brightest point in mother and mother hip&#160; D141_C</tspan
><tspan x="573" dy="12.17">Distance between nuclear brightest point and mother tip D129_ATB</tspan
><tspan x="573" dy="12.17">Distance between nuclear brightest point and mother hip&#160; D142_A1B</tspan
><tspan x="573" dy="12.17">Distance between nuclear brightest point and middle point of neck D132_A1B</tspan
><tspan x="573" dy="12.17">Distance between nuclear brightest point and cell center D135_A</tspan
><tspan x="573" dy="12.17">Contour length of mother cell&#160; C12−1_C</tspan
><tspan x="573" dy="12.17">Contour length of mother cell&#160; C12−1_ATB</tspan
><tspan x="573" dy="12.17">Contour length of daughter cell&#160; C12−2_C</tspan
><tspan x="573" dy="12.17">Contour length of daughter cell&#160; C12−2_ATB</tspan
><tspan x="573" dy="12.17">Cell size&#160; C101_C</tspan
><tspan x="573" dy="12.17">Bud growth direction&#160; C106_C</tspan
><tspan x="573" dy="12.17">Area of daughter cell&#160; C11−2_C</tspan
><tspan x="573" dy="12.17">Area of daughter cell&#160; C11−2_ATB</tspan
><tspan x="573" dy="12.17">Angle between M1D2−1 and M1C1&#160; D170_C</tspan
><tspan x="573" dy="12.17">Angle between M1D2−1 and M1C1&#160; D170_ATB</tspan
><tspan x="573" dy="12.17">Angle between M1D1−1 and M1C1&#160; D169_C</tspan
><tspan x="573" dy="12.17">Angle between D19−1D2−1 and D19−1C1−2&#160; D159_C</tspan
><tspan x="573" dy="12.17">Angle between D18−1D1−1 and D18−1C1−2&#160; D158_C</tspan
></text>

<!-- ===== Panel c ===== -->
<text x="-1" y="1693" font-size="78" font-weight="bold" fill="#000">c</text>
<use xlink:href="#gc" href="#gc" x="582.5"/>
<use xlink:href="#gc" href="#gc" x="717.7"/>
<use xlink:href="#gc" href="#gc" x="852.9"/>
<use xlink:href="#gc" href="#gc" x="988.1"/>
<use xlink:href="#gc" href="#gc" x="1123.3"/>
<use xlink:href="#gc" href="#gc" x="1258.5"/>
<use xlink:href="#gc" href="#gc" x="1393.7"/>
<use xlink:href="#gc" href="#gc" x="1528.9"/>

<g transform="translate(587.3 1702.4) scale(7.62 13.11)">
<rect class="p" y="0" width=".3" height=".9"/><rect class="p" y="1" width=".15" height=".9"/><rect class="p" y="2" width=".35" height=".9"/><rect class="p" y="3" width=".15" height=".9"/><rect class="p" y="4" width="4" height=".9"/><rect class="p" y="5" width="2.6" height=".9"/><rect class="p" y="6" width="2.25" height=".9"/><rect class="p" y="7" width="1.3" height=".9"/><rect class="p" y="8" width="3.1" height=".9"/><rect class="p" y="12" width=".2" height=".9"/><rect class="p" y="15" width=".15" height=".9"/><rect class="p" y="16" width=".15" height=".9"/><rect class="p" y="17" width=".15" height=".9"/><rect class="p" y="18" width=".15" height=".9"/><rect class="n" y="19" width=".15" height=".9"/><rect class="p" y="20" width=".15" height=".9"/><rect class="p" y="21" width=".15" height=".9"/><rect class="p" y="22" width=".15" height=".9"/><rect class="n" y="23" width=".15" height=".9"/><rect class="p" y="24" width="3.75" height=".9"/><rect class="p" y="25" width="3.15" height=".9"/><rect class="p" y="26" width=".9" height=".9"/><rect class="p" y="27" width=".15" height=".9"/><rect class="p" y="29" width="3.65" height=".9"/><rect class="p" y="32" width=".95" height=".9"/><rect class="p" y="33" width=".35" height=".9"/><rect class="p" y="34" width="3.3" height=".9"/><rect class="p" y="35" width=".85" height=".9"/><rect class="p" y="36" width=".6" height=".9"/><rect class="p" y="37" width=".6" height=".9"/><rect class="p" y="38" width="1.55" height=".9"/><rect class="p" y="39" width=".15" height=".9"/><rect class="p" y="40" width="2.8" height=".9"/><rect class="p" y="41" width=".65" height=".9"/><rect class="p" y="42" width="2.8" height=".9"/><rect class="p" y="43" width=".5" height=".9"/><rect class="p" y="45" width="1.6" height=".9"/><rect class="p" y="46" width=".5" height=".9"/><rect class="n" y="47" width=".15" height=".9"/><rect class="n" y="48" width=".15" height=".9"/><rect class="n" y="49" width=".15" height=".9"/><rect class="n" y="51" width=".4" height=".9"/><rect class="n" y="52" width=".4" height=".9"/>
</g>
<g transform="translate(722.5 1702.4) scale(7.62 13.11)">
<rect class="n" y="0" width="10.5" height=".9"/><rect class="n" y="1" width="6.05" height=".9"/><rect class="n" y="2" width="4" height=".9"/><rect class="n" y="3" width=".25" height=".9"/><rect class="p" y="4" width="13.1" height=".9"/><rect class="p" y="5" width="7.9" height=".9"/><rect class="p" y="6" width="7.75" height=".9"/><rect class="p" y="7" width="2.4" height=".9"/><rect class="n" y="8" width=".2" height=".9"/><rect class="n" y="9" width=".15" height=".9"/><rect class="n" y="12" width=".15" height=".9"/><rect class="p" y="13" width="1.5" height=".9"/><rect class="p" y="14" width=".15" height=".9"/><rect class="p" y="19" width=".55" height=".9"/><rect class="n" y="22" width=".15" height=".9"/><rect class="p" y="24" width=".2" height=".9"/><rect class="p" y="27" width=".2" height=".9"/><rect class="n" y="29" width=".15" height=".9"/><rect class="p" y="32" width="2.05" height=".9"/><rect class="n" y="34" width=".25" height=".9"/><rect class="p" y="35" width="1.7" height=".9"/><rect class="p" y="36" width="1.9" height=".9"/><rect class="p" y="37" width="1.75" height=".9"/><rect class="n" y="41" width=".25" height=".9"/><rect class="n" y="42" width=".25" height=".9"/><rect class="p" y="44" width=".3" height=".9"/><rect class="n" y="45" width=".65" height=".9"/><rect class="n" y="46" width=".15" height=".9"/><rect class="p" y="48" width=".25" height=".9"/><rect class="p" y="49" width=".25" height=".9"/><rect class="p" y="50" width=".25" height=".9"/><rect class="n" y="51" width="1.3" height=".9"/><rect class="n" y="52" width="1.4" height=".9"/>
</g>
<g transform="translate(857.7 1702.4) scale(7.62 13.11)">
<rect class="n" y="0" width="4.85" height=".9"/><rect class="n" y="1" width="3.45" height=".9"/><rect class="n" y="2" width=".35" height=".9"/><rect class="p" y="4" width="1.45" height=".9"/><rect class="p" y="5" width=".85" height=".9"/><rect class="p" y="6" width=".95" height=".9"/><rect class="p" y="7" width=".75" height=".9"/><rect class="p" y="9" width=".25" height=".9"/><rect class="p" y="12" width=".45" height=".9"/><rect class="n" y="13" width="3.5" height=".9"/><rect class="p" y="15" width="1.3" height=".9"/><rect class="p" y="16" width=".75" height=".9"/><rect class="p" y="17" width="1.65" height=".9"/><rect class="p" y="18" width="1.05" height=".9"/><rect class="n" y="19" width="2.55" height=".9"/><rect class="n" y="21" width=".15" height=".9"/><rect class="n" y="23" width=".25" height=".9"/><rect class="n" y="24" width=".5" height=".9"/><rect class="p" y="26" width=".45" height=".9"/><rect class="n" y="27" width=".15" height=".9"/><rect class="n" y="28" width=".15" height=".9"/><rect class="n" y="29" width=".55" height=".9"/><rect class="n" y="32" width="4.85" height=".9"/><rect class="n" y="35" width="4.1" height=".9"/><rect class="n" y="36" width="4.4" height=".9"/><rect class="n" y="37" width="3.85" height=".9"/><rect class="n" y="39" width="2.4" height=".9"/><rect class="n" y="42" width="1.5" height=".9"/><rect class="p" y="43" width=".25" height=".9"/><rect class="n" y="44" width=".15" height=".9"/><rect class="p" y="46" width=".15" height=".9"/><rect class="n" y="47" width="1.05" height=".9"/><rect class="n" y="48" width=".5" height=".9"/><rect class="n" y="49" width=".3" height=".9"/><rect class="n" y="50" width=".3" height=".9"/><rect class="n" y="51" width=".15" height=".9"/><rect class="n" y="52" width=".15" height=".9"/>
</g>
<g transform="translate(992.9 1702.4) scale(7.62 13.11)">
<rect class="p" y="0" width=".3" height=".9"/><rect class="p" y="1" width=".15" height=".9"/><rect class="n" y="3" width=".15" height=".9"/><rect class="n" y="4" width="1.55" height=".9"/><rect class="n" y="5" width=".75" height=".9"/><rect class="n" y="6" width=".55" height=".9"/><rect class="n" y="8" width=".55" height=".9"/><rect class="p" y="9" width="2.5" height=".9"/><rect class="p" y="10" width="6.05" height=".9"/><rect class="p" y="11" width="9.25" height=".9"/><rect class="p" y="12" width="1" height=".9"/><rect class="p" y="13" width=".5" height=".9"/><rect class="p" y="14" width="6.8" height=".9"/><rect class="p" y="15" width=".15" height=".9"/><rect class="n" y="17" width=".15" height=".9"/><rect class="n" y="19" width=".15" height=".9"/><rect class="p" y="20" width=".15" height=".9"/><rect class="p" y="21" width="1.05" height=".9"/><rect class="p" y="22" width=".2" height=".9"/><rect class="p" y="23" width=".45" height=".9"/><rect class="n" y="24" width=".35" height=".9"/><rect class="n" y="25" width=".4" height=".9"/><rect class="p" y="26" width=".25" height=".9"/><rect class="p" y="27" width=".35" height=".9"/><rect class="p" y="28" width=".55" height=".9"/><rect class="n" y="29" width=".4" height=".9"/><rect class="p" y="31" width=".15" height=".9"/><rect class="p" y="33" width="4.5" height=".9"/><rect class="n" y="34" width=".7" height=".9"/><rect class="p" y="36" width=".15" height=".9"/><rect class="n" y="39" width=".6" height=".9"/><rect class="p" y="40" width=".35" height=".9"/><rect class="p" y="41" width="7.15" height=".9"/><rect class="p" y="44" width=".25" height=".9"/><rect class="n" y="45" width=".15" height=".9"/><rect class="p" y="47" width="4" height=".9"/><rect class="p" y="48" width="3.75" height=".9"/><rect class="p" y="49" width=".5" height=".9"/><rect class="p" y="50" width=".55" height=".9"/><rect class="n" y="51" width="1.25" height=".9"/><rect class="n" y="52" width="1.25" height=".9"/>
</g>
<g transform="translate(1128.1 1702.4) scale(7.62 13.11)">
<rect class="p" y="1" width=".2" height=".9"/><rect class="n" y="2" width=".35" height=".9"/><rect class="n" y="3" width=".35" height=".9"/><rect class="p" y="4" width="2.1" height=".9"/><rect class="p" y="5" width="1.25" height=".9"/><rect class="p" y="6" width="1.15" height=".9"/><rect class="n" y="7" width=".15" height=".9"/><rect class="n" y="8" width=".4" height=".9"/><rect class="p" y="9" width=".35" height=".9"/><rect class="p" y="12" width=".2" height=".9"/><rect class="n" y="13" width="2.3" height=".9"/><rect class="n" y="15" width="5" height=".9"/><rect class="n" y="16" width="4.3" height=".9"/><rect class="n" y="17" width="5.6" height=".9"/><rect class="n" y="18" width="5.6" height=".9"/><rect class="p" y="20" width=".15" height=".9"/><rect class="p" y="21" width=".65" height=".9"/><rect class="n" y="22" width=".15" height=".9"/><rect class="p" y="23" width=".5" height=".9"/><rect class="p" y="24" width="1.45" height=".9"/><rect class="p" y="25" width=".15" height=".9"/><rect class="n" y="26" width="5" height=".9"/><rect class="p" y="27" width=".15" height=".9"/><rect class="p" y="29" width=".3" height=".9"/><rect class="p" y="31" width=".15" height=".9"/><rect class="n" y="32" width=".45" height=".9"/><rect class="n" y="34" width=".4" height=".9"/><rect class="n" y="35" width=".65" height=".9"/><rect class="n" y="36" width=".6" height=".9"/><rect class="n" y="37" width=".85" height=".9"/><rect class="p" y="38" width="1.1" height=".9"/><rect class="n" y="39" width=".15" height=".9"/><rect class="p" y="42" width=".9" height=".9"/><rect class="n" y="43" width="3" height=".9"/><rect class="p" y="44" width=".25" height=".9"/><rect class="n" y="45" width="2.6" height=".9"/><rect class="n" y="46" width="3.05" height=".9"/><rect class="n" y="47" width=".15" height=".9"/><rect class="p" y="49" width=".15" height=".9"/><rect class="p" y="50" width=".15" height=".9"/><rect class="p" y="51" width=".15" height=".9"/>
</g>
<g transform="translate(1263.3 1702.4) scale(7.62 13.11)">
<rect class="p" y="0" width=".15" height=".9"/><rect class="p" y="2" width=".15" height=".9"/><rect class="n" y="3" width=".4" height=".9"/><rect class="n" y="4" width=".15" height=".9"/><rect class="p" y="6" width=".75" height=".9"/><rect class="p" y="7" width=".75" height=".9"/><rect class="p" y="8" width=".15" height=".9"/><rect class="p" y="9" width=".15" height=".9"/><rect class="n" y="11" width=".15" height=".9"/><rect class="n" y="12" width="2.95" height=".9"/><rect class="n" y="13" width=".15" height=".9"/><rect class="p" y="15" width="1.15" height=".9"/><rect class="n" y="16" width=".7" height=".9"/><rect class="p" y="17" width="1" height=".9"/><rect class="n" y="18" width="1.1" height=".9"/><rect class="p" y="19" width=".15" height=".9"/><rect class="p" y="21" width="1.2" height=".9"/><rect class="p" y="22" width=".4" height=".9"/><rect class="p" y="23" width="3.35" height=".9"/><rect class="p" y="25" width=".8" height=".9"/><rect class="n" y="26" width=".85" height=".9"/><rect class="p" y="27" width="8.5" height=".9"/><rect class="p" y="28" width="4.3" height=".9"/><rect class="n" y="29" width=".95" height=".9"/><rect class="p" y="31" width=".2" height=".9"/><rect class="p" y="34" width=".15" height=".9"/><rect class="n" y="35" width=".9" height=".9"/><rect class="n" y="37" width=".7" height=".9"/><rect class="n" y="38" width="3.2" height=".9"/><rect class="p" y="39" width="2.9" height=".9"/><rect class="p" y="40" width=".5" height=".9"/><rect class="n" y="43" width=".8" height=".9"/><rect class="p" y="44" width="3.75" height=".9"/><rect class="p" y="45" width=".95" height=".9"/><rect class="n" y="46" width="1.2" height=".9"/><rect class="p" y="49" width="3.8" height=".9"/><rect class="p" y="50" width="3.9" height=".9"/><rect class="n" y="51" width=".15" height=".9"/>
</g>
<g transform="translate(1398.5 1702.4) scale(7.62 13.11)">
<rect class="p" y="0" width=".25" height=".9"/><rect class="n" y="3" width="2.5" height=".9"/><rect class="n" y="4" width=".4" height=".9"/><rect class="n" y="5" width=".4" height=".9"/><rect class="n" y="6" width=".4" height=".9"/><rect class="p" y="7" width="1.8" height=".9"/><rect class="p" y="8" width=".7" height=".9"/><rect class="p" y="9" width=".15" height=".9"/><rect class="p" y="10" width=".45" height=".9"/><rect class="n" y="12" width=".25" height=".9"/><rect class="p" y="13" width=".15" height=".9"/><rect class="p" y="14" width=".4" height=".9"/><rect class="n" y="16" width="3.3" height=".9"/><rect class="n" y="17" width=".15" height=".9"/><rect class="n" y="18" width="4.5" height=".9"/><rect class="n" y="19" width=".2" height=".9"/><rect class="n" y="21" width=".3" height=".9"/><rect class="p" y="22" width=".15" height=".9"/><rect class="n" y="23" width="2.25" height=".9"/><rect class="n" y="25" width=".3" height=".9"/><rect class="n" y="26" width="2.5" height=".9"/><rect class="n" y="27" width="2.55" height=".9"/><rect class="n" y="28" width="2.45" height=".9"/><rect class="p" y="29" width="1.4" height=".9"/><rect class="n" y="30" width=".25" height=".9"/><rect class="n" y="31" width=".2" height=".9"/><rect class="p" y="32" width=".15" height=".9"/><rect class="p" y="33" width=".2" height=".9"/><rect class="p" y="34" width=".6" height=".9"/><rect class="p" y="35" width=".3" height=".9"/><rect class="p" y="36" width=".15" height=".9"/><rect class="p" y="37" width=".45" height=".9"/><rect class="n" y="38" width=".15" height=".9"/><rect class="p" y="39" width="1.5" height=".9"/><rect class="n" y="40" width=".2" height=".9"/><rect class="p" y="42" width=".15" height=".9"/><rect class="n" y="43" width="2.55" height=".9"/><rect class="n" y="44" width="2.05" height=".9"/><rect class="n" y="46" width="4.05" height=".9"/><rect class="p" y="48" width=".15" height=".9"/><rect class="n" y="49" width="1.9" height=".9"/><rect class="n" y="50" width="1.9" height=".9"/><rect class="n" y="51" width=".15" height=".9"/><rect class="n" y="52" width=".15" height=".9"/>
</g>
<g transform="translate(1533.7 1702.4) scale(7.62 13.11)">
<rect class="p" y="0" width=".25" height=".9"/><rect class="n" y="2" width=".15" height=".9"/><rect class="p" y="4" width=".15" height=".9"/><rect class="n" y="5" width=".15" height=".9"/><rect class="n" y="6" width=".15" height=".9"/><rect class="n" y="7" width=".15" height=".9"/><rect class="p" y="9" width=".35" height=".9"/><rect class="p" y="10" width=".2" height=".9"/><rect class="n" y="11" width=".95" height=".9"/><rect class="p" y="12" width=".4" height=".9"/><rect class="n" y="14" width=".15" height=".9"/><rect class="p" y="16" width=".35" height=".9"/><rect class="p" y="18" width=".4" height=".9"/><rect class="n" y="20" width="11" height=".9"/><rect class="n" y="21" width="15" height=".9"/><rect class="n" y="22" width="5.95" height=".9"/><rect class="p" y="23" width=".55" height=".9"/><rect class="p" y="24" width=".55" height=".9"/><rect class="n" y="25" width=".15" height=".9"/><rect class="p" y="26" width=".7" height=".9"/><rect class="p" y="27" width="1" height=".9"/><rect class="p" y="28" width="2.2" height=".9"/><rect class="n" y="30" width="3" height=".9"/><rect class="n" y="31" width="2.3" height=".9"/><rect class="p" y="32" width=".15" height=".9"/><rect class="p" y="36" width=".2" height=".9"/><rect class="n" y="39" width="2.45" height=".9"/><rect class="n" y="40" width=".85" height=".9"/><rect class="n" y="41" width="1.55" height=".9"/><rect class="p" y="43" width=".3" height=".9"/><rect class="p" y="44" width=".45" height=".9"/><rect class="p" y="46" width=".35" height=".9"/><rect class="n" y="47" width=".2" height=".9"/><rect class="p" y="49" width=".5" height=".9"/><rect class="p" y="50" width=".55" height=".9"/><rect class="p" y="51" width="2.8" height=".9"/><rect class="p" y="52" width="4.65" height=".9"/>
</g>

<g>
<rect class="bd" x="582.5" y="1700.6" width="122.5" height="697.3"/><rect class="bd" x="717.7" y="1700.6" width="122.5" height="697.3"/><rect class="bd" x="852.9" y="1700.6" width="122.5" height="697.3"/><rect class="bd" x="988.1" y="1700.6" width="122.5" height="697.3"/><rect class="bd" x="1123.3" y="1700.6" width="122.5" height="697.3"/><rect class="bd" x="1258.5" y="1700.6" width="122.5" height="697.3"/><rect class="bd" x="1393.7" y="1700.6" width="122.5" height="697.3"/><rect class="bd" x="1528.9" y="1700.6" width="122.5" height="697.3"/>
<rect class="sp" x="582.5" y="1667.5" width="122.5" height="33.1"/><rect class="sp" x="717.7" y="1667.5" width="122.5" height="33.1"/><rect class="sp" x="852.9" y="1667.5" width="122.5" height="33.1"/><rect class="sp" x="988.1" y="1667.5" width="122.5" height="33.1"/><rect class="sp" x="1123.3" y="1667.5" width="122.5" height="33.1"/><rect class="sp" x="1258.5" y="1667.5" width="122.5" height="33.1"/><rect class="sp" x="1393.7" y="1667.5" width="122.5" height="33.1"/><rect class="sp" x="1528.9" y="1667.5" width="122.5" height="33.1"/>
</g>
<text class="st" x="643.75" y="1690.5">PC1</text><text class="st" x="778.95" y="1690.5">PC2</text><text class="st" x="914.15" y="1690.5">PC3</text><text class="st" x="1049.35" y="1690.5">PC4</text><text class="st" x="1184.55" y="1690.5">PC5</text><text class="st" x="1319.75" y="1690.5">PC6</text><text class="st" x="1454.95" y="1690.5">PC7</text><text class="st" x="1590.15" y="1690.5">PC8</text>

<use xlink:href="#xc" href="#xc" x="582.5"/><use xlink:href="#xc" href="#xc" x="717.7"/><use xlink:href="#xc" href="#xc" x="852.9"/><use xlink:href="#xc" href="#xc" x="988.1"/><use xlink:href="#xc" href="#xc" x="1123.3"/><use xlink:href="#xc" href="#xc" x="1258.5"/><use xlink:href="#xc" href="#xc" x="1393.7"/><use xlink:href="#xc" href="#xc" x="1528.9"/>
<g>
<text class="tk" x="587.3" y="2420.5">0</text><text class="tk" x="625.4" y="2420.5">5</text><text class="tk" x="663.5" y="2420.5">10</text><text class="tk" x="701.6" y="2420.5">15</text>
<text class="tk" x="722.5" y="2420.5">0</text><text class="tk" x="760.6" y="2420.5">5</text><text class="tk" x="798.7" y="2420.5">10</text><text class="tk" x="836.8" y="2420.5">15</text>
<text class="tk" x="857.7" y="2420.5">0</text><text class="tk" x="895.8" y="2420.5">5</text><text class="tk" x="933.9" y="2420.5">10</text><text class="tk" x="972" y="2420.5">15</text>
<text class="tk" x="992.9" y="2420.5">0</text><text class="tk" x="1031" y="2420.5">5</text><text class="tk" x="1069.1" y="2420.5">10</text><text class="tk" x="1107.2" y="2420.5">15</text>
<text class="tk" x="1128.1" y="2420.5">0</text><text class="tk" x="1166.2" y="2420.5">5</text><text class="tk" x="1204.3" y="2420.5">10</text><text class="tk" x="1242.4" y="2420.5">15</text>
<text class="tk" x="1263.3" y="2420.5">0</text><text class="tk" x="1301.4" y="2420.5">5</text><text class="tk" x="1339.5" y="2420.5">10</text><text class="tk" x="1377.6" y="2420.5">15</text>
<text class="tk" x="1398.5" y="2420.5">0</text><text class="tk" x="1436.6" y="2420.5">5</text><text class="tk" x="1474.7" y="2420.5">10</text><text class="tk" x="1512.8" y="2420.5">15</text>
<text class="tk" x="1533.7" y="2420.5">0</text><text class="tk" x="1571.8" y="2420.5">5</text><text class="tk" x="1609.9" y="2420.5">10</text><text class="tk" x="1648" y="2420.5">15</text>
</g>
<text x="1117" y="2445" font-size="22" fill="#000" text-anchor="middle">Trait contribution to PC−s (percentage)</text>

<path vector-effect="non-scaling-stroke" transform="translate(0 1708.3) scale(1 13.11)" stroke="#333" stroke-width="1.1" d="M577.8 0H582.5M577.8 1H582.5M577.8 2H582.5M577.8 3H582.5M577.8 4H582.5M577.8 5H582.5M577.8 6H582.5M577.8 7H582.5M577.8 8H582.5M577.8 9H582.5M577.8 10H582.5M577.8 11H582.5M577.8 12H582.5M577.8 13H582.5M577.8 14H582.5M577.8 15H582.5M577.8 16H582.5M577.8 17H582.5M577.8 18H582.5M577.8 19H582.5M577.8 20H582.5M577.8 21H582.5M577.8 22H582.5M577.8 23H582.5M577.8 24H582.5M577.8 25H582.5M577.8 26H582.5M577.8 27H582.5M577.8 28H582.5M577.8 29H582.5M577.8 30H582.5M577.8 31H582.5M577.8 32H582.5M577.8 33H582.5M577.8 34H582.5M577.8 35H582.5M577.8 36H582.5M577.8 37H582.5M577.8 38H582.5M577.8 39H582.5M577.8 40H582.5M577.8 41H582.5M577.8 42H582.5M577.8 43H582.5M577.8 44H582.5M577.8 45H582.5M577.8 46H582.5M577.8 47H582.5M577.8 48H582.5M577.8 49H582.5M577.8 50H582.5M577.8 51H582.5M577.8 52H582.5"/>

<text class="yl" x="573" y="1713.6" text-anchor="end"><tspan x="573">Short axis length of mother cell&#160; C104_C</tspan
><tspan x="573" dy="13.11">Short axis length of mother cell&#160; C104_ATB</tspan
><tspan x="573" dy="13.11">Short axis length of mother cell&#160; C104_A</tspan
><tspan x="573" dy="13.11">Short axis length in bud&#160; C108_ATB</tspan
><tspan x="573" dy="13.11">Roundness of mother cell&#160; C115_C</tspan
><tspan x="573" dy="13.11">Roundness of mother cell&#160; C115_ATB</tspan
><tspan x="573" dy="13.11">Roundness of mother cell&#160; C115_A</tspan
><tspan x="573" dy="13.11">Roundness of bud&#160; C114_C</tspan
><tspan x="573" dy="13.11">Relative distance of two nuclear brightest points to middle point of neck&#160; D186_C</tspan
><tspan x="573" dy="13.11">Relative distance of nuclear gravity center to cell center&#160; D147_C</tspan
><tspan x="573" dy="13.11">Relative distance of nuclear gravity center to cell center&#160; D147_A</tspan
><tspan x="573" dy="13.11">Relative distance of nuclear brightest point to cell center&#160; D148_A</tspan
><tspan x="573" dy="13.11">Ratio of D104 to C103&#160; D107_ATB</tspan
><tspan x="573" dy="13.11">Ratio of D103 to C103&#160; D106_C</tspan
><tspan x="573" dy="13.11">Ratio of D102 to C103&#160; D105_A</tspan
><tspan x="573" dy="13.11">Ratio of the countour length&#160; C117_C</tspan
><tspan x="573" dy="13.11">Ratio of the countour length&#160; C117_ATB</tspan
><tspan x="573" dy="13.11">Ratio of the cell sizes&#160; C118_C</tspan
><tspan x="573" dy="13.11">Ratio of the cell sizes&#160; C118_ATB</tspan
><tspan x="573" dy="13.11">Ratio of D121 to C107&#160; D123_C</tspan
><tspan x="573" dy="13.11">nucleus roundness in mother cell D182_C</tspan
><tspan x="573" dy="13.11">nucleus roundness in mother cell D182_A</tspan
><tspan x="573" dy="13.11">nucleus roundness in bud D183_C</tspan
><tspan x="573" dy="13.11">Neck position&#160; C105_C</tspan
><tspan x="573" dy="13.11">Long axis length of mother cell&#160; C103_C</tspan
><tspan x="573" dy="13.11">Long axis length of mother cell&#160; C103_A</tspan
><tspan x="573" dy="13.11">Long axis length in bud&#160; C107_ATB</tspan
><tspan x="573" dy="13.11">Length from bud tip to mother cell's long axis&#160; C110_C</tspan
><tspan x="573" dy="13.11">Length from bud tip to mother cell's long axis&#160; C110_ATB</tspan
><tspan x="573" dy="13.11">Length from bud neck to the farthest point on mother cell&#160; C128_C</tspan
><tspan x="573" dy="13.11">Fitness to ellipse of the nucleus in the mother cell D17−1_C</tspan
><tspan x="573" dy="13.11">Fitness to ellipse of the nucleus in the mother cell D17−1_A</tspan
><tspan x="573" dy="13.11">Distance from nuclear center to mother tip&#160; D103_C</tspan
><tspan x="573" dy="13.11">Distance from mother cell's center to nucleus&#160; D117_A</tspan
><tspan x="573" dy="13.11">distance between nuclei through neck D185_C</tspan
><tspan x="573" dy="13.11">Distance between nuclear gravity center in mother and mother hip D125_C</tspan
><tspan x="573" dy="13.11">Distance between nuclear brightest point in mother and mother tip D128_C</tspan
><tspan x="573" dy="13.11">Distance between nuclear brightest point in mother and mother hip&#160; D141_C</tspan
><tspan x="573" dy="13.11">Distance between nuclear brightest point and mother hip&#160; D142_ATB</tspan
><tspan x="573" dy="13.11">Distance between nuclear brightest point and middle point of neck D132_A1B</tspan
><tspan x="573" dy="13.11">Distance between nuclear brightest point and cell tip D127_A</tspan
><tspan x="573" dy="13.11">Distance between nuclear brightest point and cell center D135_A</tspan
><tspan x="573" dy="13.11">Contour length of mother cell&#160; C12−1_ATB</tspan
><tspan x="573" dy="13.11">Contour length of daughter cell&#160; C12−2_A1B</tspan
><tspan x="573" dy="13.11">Bud growth direction&#160; C106_C</tspan
><tspan x="573" dy="13.11">Area of daughter cell&#160; C11−2_C</tspan
><tspan x="573" dy="13.11">Area of daughter cell&#160; C11−2_ATB</tspan
><tspan x="573" dy="13.11">Angle between M1D2−1 and M1C1&#160; D170_C</tspan
><tspan x="573" dy="13.11">Angle between M1D1−1 and M1C1&#160; D169_C</tspan
><tspan x="573" dy="13.11">Angle between D19−1D2−1 and D19−1C1−2&#160; D159_C</tspan
><tspan x="573" dy="13.11">Angle between D18−1D1−1 and D18−1C1−2&#160; D158_C</tspan
><tspan x="573" dy="13.11">Angle between C1D2−1 and C1C1−2&#160; D155_A</tspan
><tspan x="573" dy="13.11">Angle between C1D1−1 and C1C1−2&#160; D154_A</tspan
></text>
</svg>
</body></html>
